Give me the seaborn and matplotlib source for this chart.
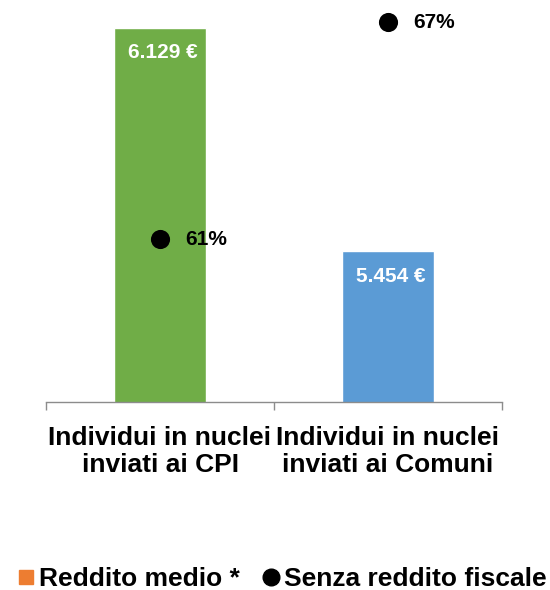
import matplotlib
matplotlib.use("Agg")
import matplotlib.pyplot as plt
import seaborn as sns
import pandas as pd
from matplotlib.lines import Line2D
from matplotlib.ticker import FixedLocator

categories = ["Individui in nuclei\ninviati ai CPI", "Individui in nuclei\ninviati ai Comuni"]
reddito_medio = [6129, 5454]
reddito_labels = ["6.129 €", "5.454 €"]
senza_reddito = [61, 67]
senza_labels = ["61%", "67%"]
bar_colors = ["#70AD47", "#5B9BD5"]

sns.set_theme(style="white")
plt.rcParams["font.family"] = ["Liberation Sans", "DejaVu Sans"]
plt.rcParams["font.weight"] = "bold"
plt.rcParams["text.color"] = "black"
plt.rcParams["xtick.color"] = "black"

df = pd.DataFrame({"cat": categories, "reddito": reddito_medio, "senza": senza_reddito})

fig = plt.figure(figsize=(5.5, 5.9), dpi=100)
ax = fig.add_axes([46 / 550, 188 / 590, 456 / 550, 398 / 590])

sns.barplot(data=df, x="cat", y="reddito", hue="cat", palette=bar_colors,
            width=0.4, legend=False, ax=ax, saturation=1)
ax.set_ylim(5000, 6200)
ax.set_xlim(-0.5, 1.5)

for i, (v, lab) in enumerate(zip(reddito_medio, reddito_labels)):
    ax.annotate(lab, (i, v), xytext=(2, -18), textcoords="offset points",
                ha="center", va="center", color="white", fontsize=15, fontweight="bold")

ax2 = ax.twinx()
sns.scatterplot(x=[0, 1], y=senza_reddito, color="black", s=190, ax=ax2,
                edgecolor="black", linewidth=0, zorder=5)
ax2.set_ylim(56.5, 67.5)
for i, (v, lab) in enumerate(zip(senza_reddito, senza_labels)):
    ax2.annotate(lab, (i, v), xytext=(18, 0), textcoords="offset points",
                 ha="left", va="center", color="black", fontsize=15, fontweight="bold")

for a in (ax, ax2):
    for side in ["left", "right", "top"]:
        a.spines[side].set_visible(False)
    a.set_yticks([])
    a.set_ylabel("")
ax2.spines["bottom"].set_visible(False)

ax.spines["bottom"].set_color("#8C8C8C")
ax.spines["bottom"].set_linewidth(1)
ax.set_xlabel("")
ax.xaxis.set_minor_locator(FixedLocator([-0.5, 0.5, 1.5]))
ax.tick_params(axis="x", which="major", length=0, pad=17, labelsize=19, labelcolor="black")
ax.tick_params(axis="x", which="minor", length=6, color="#8C8C8C", width=1, direction="out")
ax.tick_params(axis="x", which="both", bottom=True)
for t in ax.get_xticklabels():
    t.set_fontweight("bold")
    t.set_linespacing(1.18)

handles = [
    Line2D([0], [0], marker="s", color="none", markerfacecolor="#ED7D31",
           markeredgecolor="#ED7D31", markersize=10),
    Line2D([0], [0], marker="o", color="none", markerfacecolor="black",
           markeredgecolor="black", markersize=12),
]
leg = fig.legend(handles, ["Reddito medio *", "Senza reddito fiscale"], loc="center",
                 bbox_to_anchor=(282 / 550, 11 / 590), ncol=2, frameon=False,
                 prop={"size": 19, "weight": "bold"}, handlelength=0.6,
                 handletextpad=0.2, columnspacing=0.87, borderaxespad=0)
for t in leg.get_texts():
    t.set_color("black")

fig.savefig("out.png", dpi=100)
